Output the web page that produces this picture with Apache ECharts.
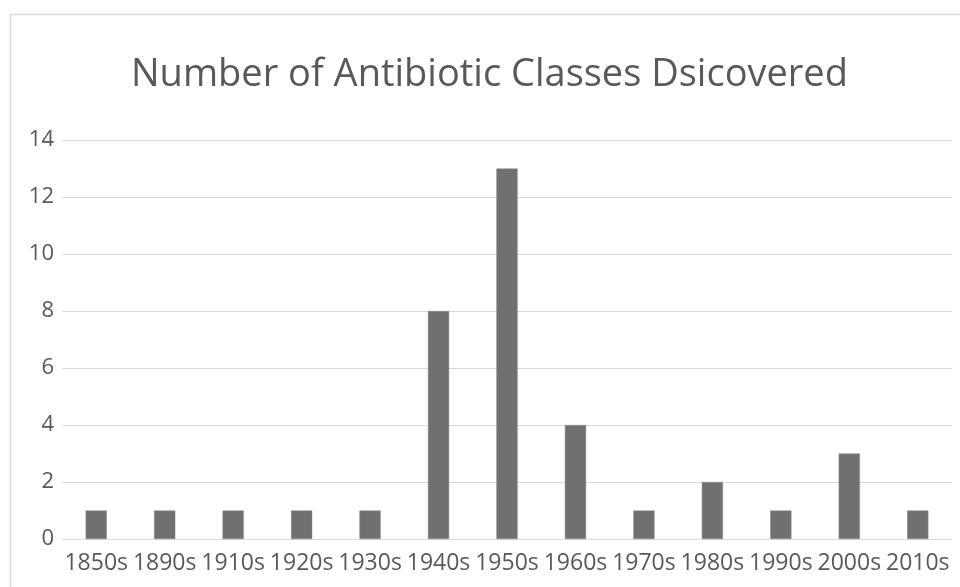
<!DOCTYPE html>
<html><head><meta charset="utf-8">
<script src="https://cdn.jsdelivr.net/npm/echarts@6/dist/echarts.min.js"></script>
<style>html,body{margin:0;padding:0;background:#fff}#c{width:960px;height:587px}</style>
</head><body><div id="c"></div>
<script>
const categories = ['1850s','1890s','1910s','1920s','1930s','1940s','1950s','1960s','1970s','1980s','1990s','2000s','2010s'];
const classCounts = [1,1,1,1,1,8,13,4,1,2,1,3,1];
const yTicks = {min:0, max:14, interval:2};
const titleText = 'Number of Antibiotic Classes Dsicovered';

const chart = echarts.init(document.getElementById('c'), null, {renderer:'canvas'});
chart.setOption({
  animation:false,
  backgroundColor:'#fff',
  graphic:[{type:'rect', shape:{x:10.5,y:14.5,width:1000,height:700}, style:{fill:'none', stroke:'#d9d9d9', lineWidth:1.5}, silent:true}],
  title:{text:titleText, left:131, top:56, padding:0, textStyle:{fontFamily:'Open Sans', fontSize:38, fontWeight:'normal', color:'#595959'}},
  grid:{left:62, right:8, top:140, bottom:48, containLabel:false},
  xAxis:{type:'category', data:categories,
    axisLine:{show:true, lineStyle:{color:'#d9d9d9', width:1}},
    axisTick:{show:false},
    axisLabel:{fontFamily:'Open Sans', fontSize:23, color:'#595959', margin:13, interval:0}},
  yAxis:{type:'value', min:yTicks.min, max:yTicks.max, interval:yTicks.interval,
    axisLine:{show:false}, axisTick:{show:false},
    splitLine:{lineStyle:{color:'#d9d9d9', width:1}},
    axisLabel:{fontFamily:'Open Sans', fontSize:22, color:'#595959', margin:8}},
  series:[{type:'bar', data:classCounts, barWidth:'31%',
    itemStyle:{color:'#707070', borderColor:'#8a8a8a', borderWidth:0.5}}]
});
</script></body></html>
